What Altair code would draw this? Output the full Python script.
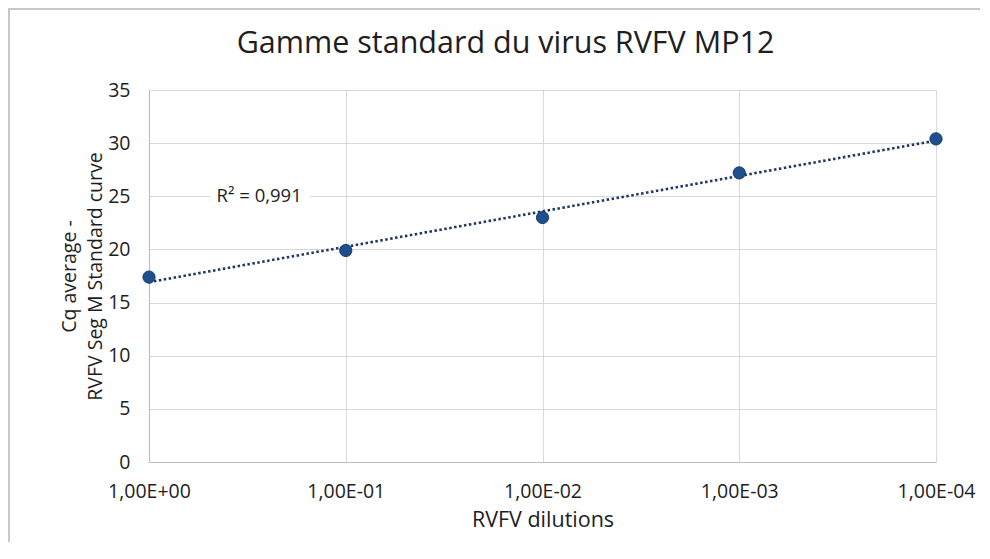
import json
import altair as alt
import pandas as pd

# ---- data ----
dilution_labels = ["1,00E+00", "1,00E-01", "1,00E-02", "1,00E-03", "1,00E-04"]
positions = [1, 2, 3, 4, 5]
cq_values = [17.4, 19.9, 23.0, 27.2, 30.4]
r2_text = ["R² = 0,991"]
r2_pos = [1.56]
r2_cq = [25.0]
chart_title = ["Gamme standard du virus RVFV MP12"]

df = pd.DataFrame({"pos": positions, "cq": cq_values, "label": dilution_labels})
ann = pd.DataFrame({"pos": r2_pos, "cq": r2_cq, "text": r2_text,
                    "x0": [1.31], "x1": [1.82], "y0": [24.3], "y1": [25.7]})
title_df = pd.DataFrame({"text": chart_title})

W, H = 787, 372
FONT = "Open Sans"
TXT = "#1e1e1e"
label_expr = f"{json.dumps(dilution_labels)}[datum.value - 1]"

x_scale = alt.Scale(domain=[1, 5], nice=False, zero=False)
y_scale = alt.Scale(domain=[0, 35], nice=False)

x_axis = alt.Axis(values=positions, labelExpr=label_expr, title="RVFV dilutions",
                  grid=True, ticks=False, labelPadding=20, titlePadding=9,
                  labelFont=FONT, labelFontSize=19.5, labelColor=TXT,
                  titleFont=FONT, titleFontSize=21.5, titleFontWeight="normal", titleColor=TXT,
                  labelFlush=False, labelOverlap=False)
y_axis = alt.Axis(values=list(range(0, 36, 5)), title=["Cq average -", "RVFV Seg M Standard curve"],
                  grid=True, ticks=False, labelPadding=19, titlePadding=2,
                  labelFont=FONT, labelFontSize=19.5, labelColor=TXT,
                  titleFont=FONT, titleFontSize=19.5, titleFontWeight="normal", titleColor=TXT,
                  titleLineHeight=26)

base = alt.Chart(df)

trend = base.transform_regression("pos", "cq", method="linear", extent=[1, 5]).mark_line(
    color="#1F3864", strokeWidth=2.6, strokeDash=[2.5, 2.5]
).encode(
    x=alt.X("pos:Q", scale=x_scale, axis=x_axis),
    y=alt.Y("cq:Q", scale=y_scale, axis=y_axis),
)

points = base.mark_point(filled=True, size=150, color="#1F4E8C", opacity=1,
                         stroke="#173E70", strokeWidth=1).encode(
    x=alt.X("pos:Q", scale=x_scale),
    y=alt.Y("cq:Q", scale=y_scale),
)

ann_bg = alt.Chart(ann).mark_rect(color="white").encode(
    x=alt.X("x0:Q", scale=x_scale), x2="x1:Q",
    y=alt.Y("y0:Q", scale=y_scale), y2="y1:Q",
)
ann_text = alt.Chart(ann).mark_text(font=FONT, fontSize=18.5, color=TXT, align="center",
                                    baseline="middle").encode(
    x=alt.X("pos:Q", scale=x_scale),
    y=alt.Y("cq:Q", scale=y_scale),
    text="text:N",
)

title_mark = alt.Chart(title_df).mark_text(font=FONT, fontSize=30.5, color=TXT, align="center",
                                           baseline="alphabetic").encode(
    x=alt.value(W / 2 - 37), y=alt.value(-37), text="text:N")

frame_left = alt.Chart(title_df).mark_rule(color="#c8c8c8", strokeWidth=2).encode(
    x=alt.value(-140), y=alt.value(-81), y2=alt.value(H + 120))
frame_top = alt.Chart(title_df).mark_rule(color="#c8c8c8", strokeWidth=2).encode(
    x=alt.value(-141), x2=alt.value(W + 44), y=alt.value(-81))

chart = alt.layer(trend, ann_bg, ann_text, points, title_mark, frame_left, frame_top).properties(
    width=W, height=H,
    autosize=alt.AutoSizeParams(type="none"),
    padding={"left": 141, "top": 82, "right": 44, "bottom": 80},
).configure_view(stroke=None).configure_axis(
    gridColor="#d9d9d9", gridWidth=1, domainColor="#bfbfbf", domainWidth=1.2
)

chart.save("out.html", embed_options={"renderer": "svg", "actions": False})
